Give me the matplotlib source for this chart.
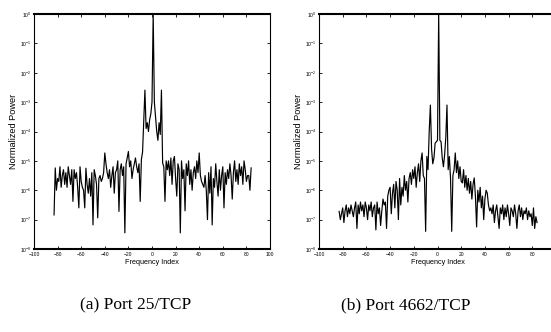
import numpy as np
import matplotlib
matplotlib.use("Agg")
import matplotlib.pyplot as plt
from matplotlib.ticker import LogLocator, LogFormatterMathtext, NullLocator, MultipleLocator

# Frequency index (categories)
freq_index = np.arange(-83, 85)

# log10 of normalized power, Port 25/TCP
port25_log = [
    -6.84, -5.24, -6.0, -5.6, -5.7, -5.2, -5.9, -5.5, -5.3, -5.8,
    -5.4, -5.9, -5.2, -5.5, -5.8, -5.3, -6.38, -5.3, -5.6, -5.4,
    -5.9, -6.6, -5.2, -5.7, -5.9, -6.0, -6.6, -5.25, -5.8, -6.1,
    -5.6, -6.2, -5.4, -7.18, -5.3, -5.5, -5.8, -6.94, -5.6, -5.5,
    -5.7, -5.6, -5.4, -4.73, -5.1, -5.4, -5.6, -5.3, -5.9, -5.5,
    -5.2, -6.1, -5.4, -5.3, -5.0, -6.72, -5.3, -5.1, -5.5, -5.2,
    -7.45, -5.1, -4.9, -4.68, -5.2, -5.0, -5.6, -5.3, -5.1, -4.9,
    -5.2, -5.4, -5.1, -6.38, -4.95, -4.7, -3.6, -2.59, -3.9, -3.7,
    -4.0, -3.6, -3.4, -3.0, 0.0, -3.0, -3.5, -4.0, -4.3, -3.7,
    -4.1, -2.59, -5.07, -5.2, -6.38, -5.0, -5.3, -5.0, -5.5, -4.9,
    -5.8, -5.0, -4.85, -5.6, -6.2, -5.1, -5.3, -7.45, -5.0, -5.6,
    -5.3, -6.7, -5.1, -5.5, -5.0, -5.8, -5.3, -6.0, -5.4, -5.2,
    -5.6, -5.0, -5.4, -4.73, -5.5, -5.7, -5.8, -5.9, -5.5, -6.0,
    -7.0, -5.4, -6.1, -5.2, -7.18, -5.6, -5.9, -5.1, -5.7, -6.2,
    -5.3, -6.0, -5.5, -5.2, -6.6, -5.4, -5.8, -5.3, -5.6, -5.1,
    -5.5, -6.3, -5.4, -5.0, -5.7, -5.3, -5.8, -5.1, -5.5, -5.2,
    -5.8, -5.0, -5.3, -5.7, -5.5, -5.5, -6.0, -5.24,
]

# log10 of normalized power, Port 4662/TCP
port4662_log = [
    -6.72, -7.0, -6.8, -6.6, -7.1, -6.7, -6.5, -6.9, -6.6, -6.8,
    -6.5, -6.7, -6.9, -6.6, -6.4, -7.3, -6.5, -6.8, -6.4, -6.7,
    -6.5, -6.9, -6.4, -6.6, -7.0, -6.5, -6.7, -6.4, -6.9, -6.6,
    -6.5, -7.35, -6.4, -6.8, -6.6, -7.2, -6.7, -6.3, -6.5, -6.4,
    -7.3, -6.2, -6.0, -5.9, -6.8, -6.1, -5.8, -6.6, -5.7, -6.0,
    -7.0, -5.6, -6.5, -5.9, -6.2, -5.5, -6.0, -5.7, -6.4, -5.6,
    -5.4, -5.8, -5.3, -5.6, -5.2, -5.9, -5.4, -5.1, -5.7, -5.0,
    -4.73, -5.5, -5.6, -7.4, -4.85, -5.3, -4.0, -3.1, -4.6, -5.1,
    -4.9, -4.4, -4.35, -4.3, 0.0, -4.3, -4.35, -4.9, -5.2, -4.8,
    -4.2, -3.1, -5.3, -4.85, -5.6, -7.4, -5.5, -5.3, -4.73, -5.4,
    -5.0, -5.6, -5.2, -5.7, -5.75, -5.3, -5.9, -5.5, -6.0, -5.6,
    -6.1, -5.7, -6.3, -5.8, -5.58, -6.2, -7.25, -6.0, -6.4, -5.9,
    -6.6, -6.2, -7.0, -6.3, -6.0, -6.1, -6.5, -6.7, -6.6, -6.8,
    -6.5, -7.1, -6.7, -6.5, -6.9, -7.3, -6.6, -6.8, -6.5, -7.0,
    -6.6, -6.9, -6.5, -6.8, -7.2, -6.6, -6.7, -6.9, -6.5, -6.8,
    -7.3, -6.7, -6.5, -6.9, -6.6, -7.0, -6.7, -6.8, -6.6, -7.0,
    -6.7, -6.9, -6.8, -7.2, -6.6, -7.3, -6.9, -7.1,
]

captions = ["(a) Port 25/TCP", "(b) Port 4662/TCP"]
x_label = "Frequency Index"
y_label = "Normalized Power"

plt.rcParams['font.family'] = ['Liberation Sans', 'DejaVu Sans']

fig = plt.figure(figsize=(5.51, 3.32), dpi=100)
W, H = 551.0, 332.0
boxes = [(34, 14, 270, 249), (319, 14, 556, 249)]
series = [port25_log, port4662_log]
cap_x = [136, 406]

for (x0, y0, x1, y1), logs, cap, cx in zip(boxes, series, captions, cap_x):
    ax = fig.add_axes([x0 / W, 1 - y1 / H, (x1 - x0) / W, (y1 - y0) / H])
    ax.plot(freq_index, 10.0 ** np.array(logs), color='black', lw=0.85)
    ax.set_yscale('log')
    ax.set_xlim(-100, 100)
    ax.set_ylim(1e-8, 1e0)
    ax.xaxis.set_major_locator(MultipleLocator(20))
    ax.yaxis.set_major_locator(LogLocator(base=10, numticks=20))
    ax.yaxis.set_major_formatter(LogFormatterMathtext())
    ax.yaxis.set_minor_locator(NullLocator())
    ax.tick_params(which='major', direction='in', top=True, right=True,
                   length=2, width=0.6, labelsize=3.6, pad=1.8)
    for s in ['top', 'bottom']:
        ax.spines[s].set_linewidth(1.5)
    for s in ['left', 'right']:
        ax.spines[s].set_linewidth(0.8)
    ax.set_xlabel(x_label, fontsize=5.2, labelpad=1.5)
    ax.set_ylabel(y_label, fontsize=6.6, labelpad=1.5)
    fig.text(cx / W, 1 - 305 / H, cap, ha='center', va='center',
             fontsize=12.5, family=['Liberation Serif', 'DejaVu Serif'])

fig.savefig('out.png', dpi=100)
